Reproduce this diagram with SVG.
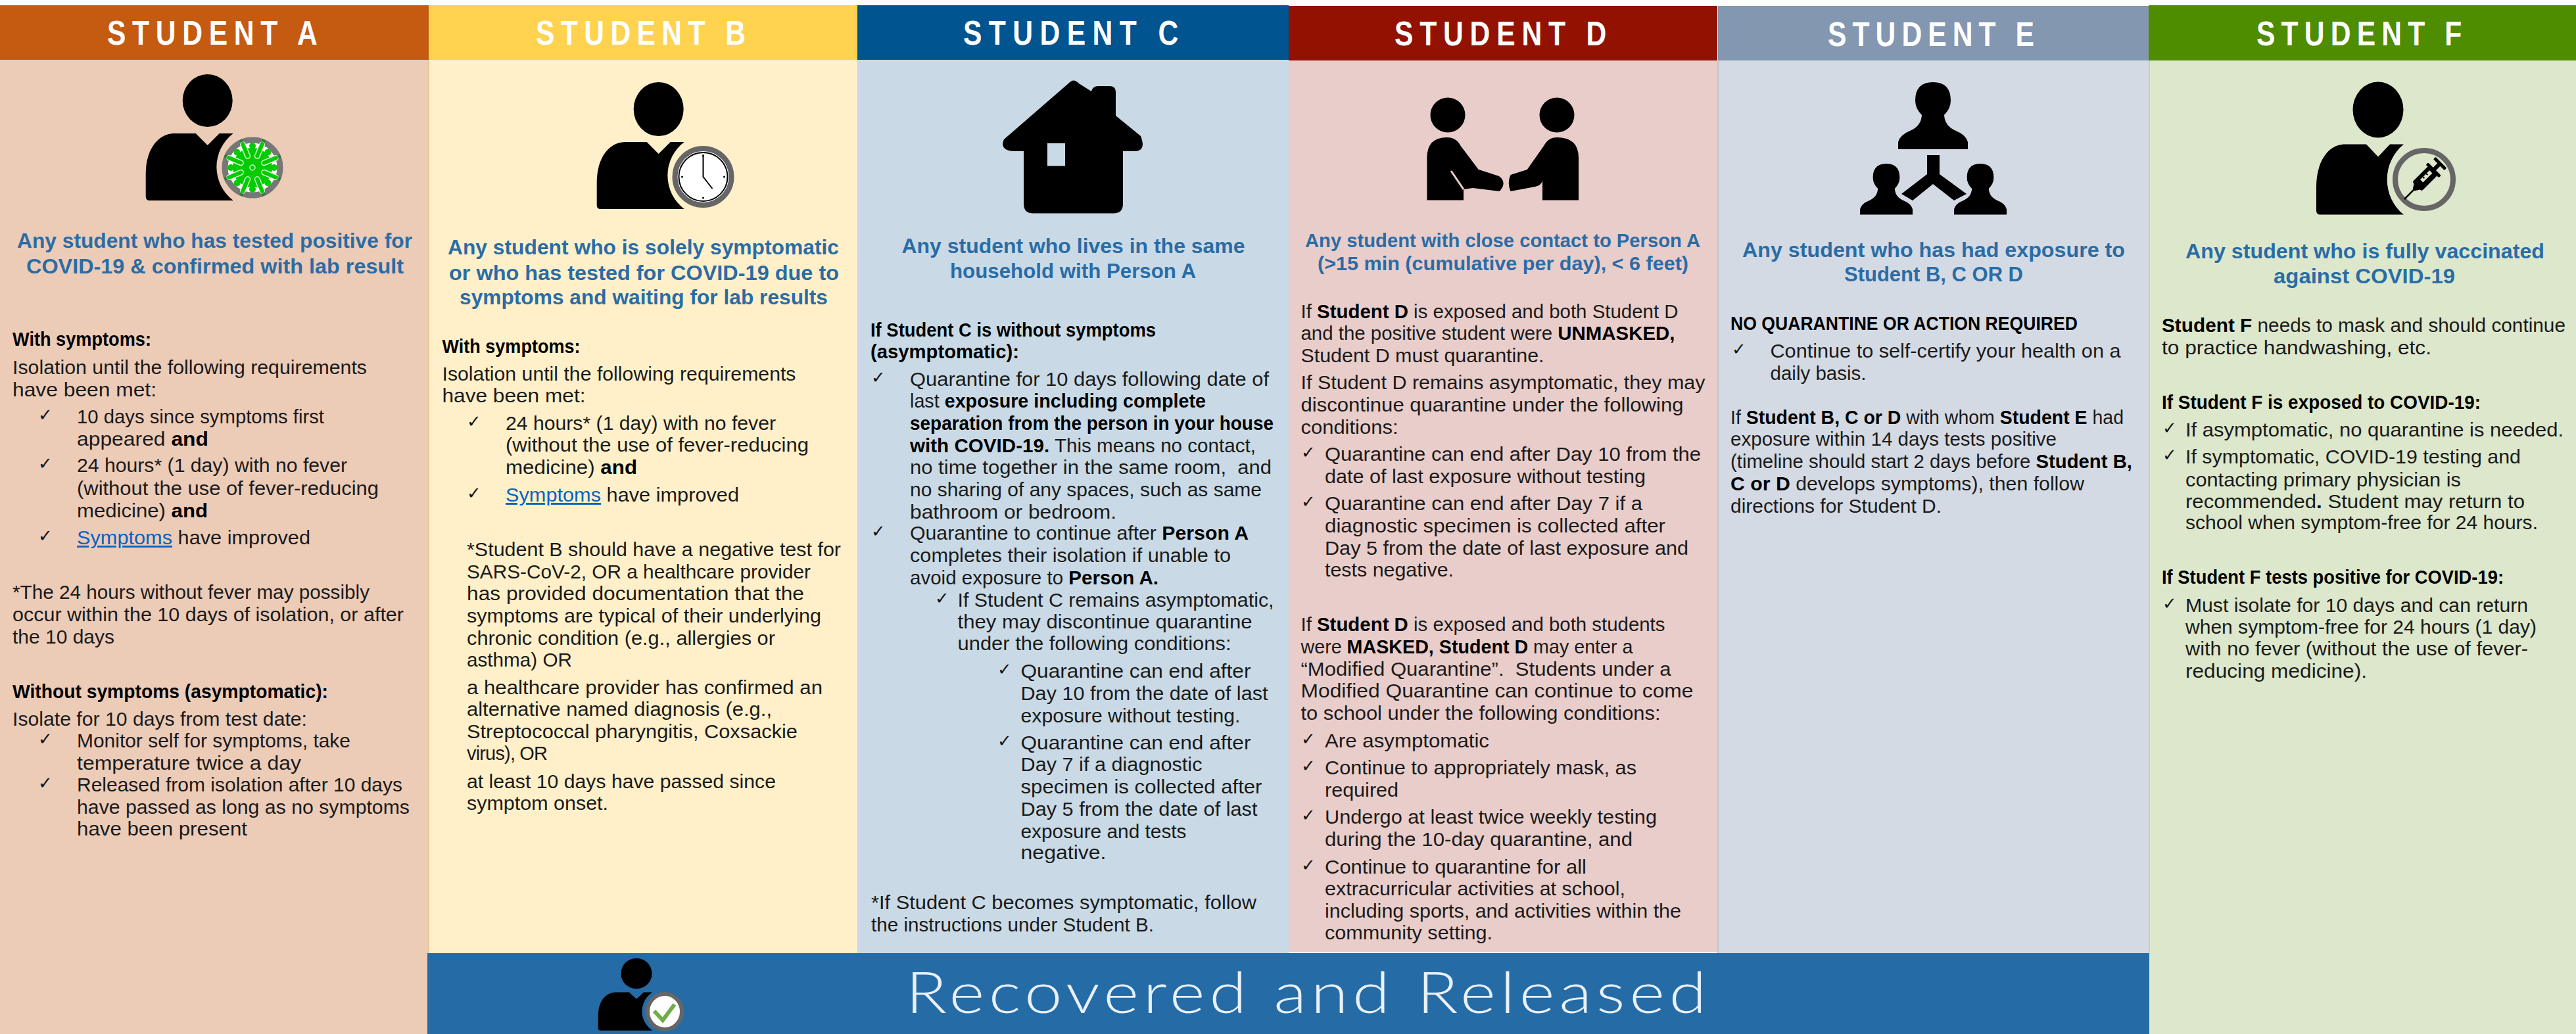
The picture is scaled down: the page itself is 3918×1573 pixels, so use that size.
<svg xmlns="http://www.w3.org/2000/svg" xmlns:xlink="http://www.w3.org/1999/xlink" width="3918" height="1573" viewBox="0 0 3918 1573">
<style>
text{font-family:"Liberation Sans",Arial,sans-serif;font-size:29px;fill:#1a1a1a;white-space:pre}
.h{font-size:52px;font-weight:700;fill:#fff}
.t{font-size:32px;font-weight:700;fill:#2a6ca6}
.b{font-weight:700;fill:#000}
.k{font-family:"DejaVu Sans",sans-serif;font-size:26px;fill:#111}
.l{fill:#0563c1;text-decoration:underline}
.r{font-family:Lato,"Liberation Sans",sans-serif;font-size:86px;font-weight:300;fill:#e9f0fb}
</style>
<defs>
<path id="body" d="M-88,152Q-94,152-94,146L-94,112C-94,75-76,50-50,50L-18,50L0,68L18,50L39,50A64,64 0 0 0 39,152Z"/>
<path id="bust" d="M-53,102L-53,91Q-50,80-35,74Q-18,67-17,50Q-27,40-27,28Q-27,0 0,0Q27,0 27,28Q27,40 17,50Q18,67 35,74Q50,80 53,91L53,102Z"/>
<g id="spike"><line x1="39" y1="0" x2="46" y2="0" stroke="#2f7a3a" stroke-width="5"/><line x1="19" y1="0" x2="38" y2="0" stroke="#dff7d8" stroke-width="9" stroke-linecap="round"/><line x1="19" y1="0" x2="39" y2="0" stroke="#00cc00" stroke-width="6" stroke-linecap="round"/></g>
<circle id="bump" cx="33" cy="0" r="5" fill="#00cc00"/>
</defs>
<rect width="3918" height="1573" fill="#fff"/>

<g id="student-a">
<rect x="0" y="91" width="652" height="1482" fill="#eccbb7"/>
<rect x="651" y="91" width="2" height="1482" fill="#f3c392"/>
<rect x="0" y="8" width="652" height="83" fill="#c55a11"/>
<text class="h" transform="translate(163,68) scale(.82,1)" textLength="390">STUDENT A</text>
<g transform="translate(315.7,153)"><ellipse rx="38" ry="40"/><use href="#body"/></g>
<g transform="translate(384,255)">
<circle r="53" fill="#eccbb7"/><circle r="42" fill="#fff" stroke="#777" stroke-width="9"/>
<circle r="30" fill="#00cc00"/>
<use href="#bump"/><use href="#bump" transform="rotate(45)"/><use href="#bump" transform="rotate(90)"/><use href="#bump" transform="rotate(135)"/><use href="#bump" transform="rotate(180)"/><use href="#bump" transform="rotate(225)"/><use href="#bump" transform="rotate(270)"/><use href="#bump" transform="rotate(315)"/>
<use href="#spike" transform="rotate(22.5)"/><use href="#spike" transform="rotate(67.5)"/><use href="#spike" transform="rotate(112.5)"/><use href="#spike" transform="rotate(157.5)"/><use href="#spike" transform="rotate(202.5)"/><use href="#spike" transform="rotate(247.5)"/><use href="#spike" transform="rotate(292.5)"/><use href="#spike" transform="rotate(337.5)"/>
<circle r="4" fill="none" stroke="#d9f7d0" stroke-width="1.5"/>
</g>
<text class="t" x="26" y="377" textLength="601" lengthAdjust="spacingAndGlyphs">Any student who has tested positive for</text>
<text class="t" x="40" y="416" textLength="574" lengthAdjust="spacingAndGlyphs">COVID-19 &amp; confirmed with lab result</text>
<text class="b" x="19" y="526" textLength="211" lengthAdjust="spacingAndGlyphs">With symptoms:</text>
<text x="19" y="569" textLength="539" lengthAdjust="spacingAndGlyphs">Isolation until the following requirements</text>
<text x="19" y="603" textLength="219" lengthAdjust="spacingAndGlyphs">have been met:</text>
<text class="k" x="58" y="640">✓</text>
<text x="117" y="644" textLength="376" lengthAdjust="spacingAndGlyphs">10 days since symptoms first</text>
<text x="117" y="678" textLength="200" lengthAdjust="spacingAndGlyphs">appeared <tspan class="b">and</tspan></text>
<text class="k" x="58" y="714">✓</text>
<text x="117" y="718" textLength="411" lengthAdjust="spacingAndGlyphs">24 hours* (1 day) with no fever</text>
<text x="117" y="753" textLength="459" lengthAdjust="spacingAndGlyphs">(without the use of fever-reducing</text>
<text x="117" y="787" textLength="199" lengthAdjust="spacingAndGlyphs">medicine) <tspan class="b">and</tspan></text>
<text class="k" x="58" y="824">✓</text>
<text x="117" y="828" textLength="355" lengthAdjust="spacingAndGlyphs"><tspan class="l">Symptoms</tspan> have improved</text>
<text x="19" y="911" textLength="543" lengthAdjust="spacingAndGlyphs">*The 24 hours without fever may possibly</text>
<text x="19" y="945" textLength="595" lengthAdjust="spacingAndGlyphs">occur within the 10 days of isolation, or after</text>
<text x="19" y="979" textLength="155" lengthAdjust="spacingAndGlyphs">the 10 days</text>
<text class="b" x="19" y="1062" textLength="480" lengthAdjust="spacingAndGlyphs">Without symptoms (asymptomatic):</text>
<text x="19" y="1104" textLength="448" lengthAdjust="spacingAndGlyphs">Isolate for 10 days from test date:</text>
<text class="k" x="58" y="1133">✓</text>
<text x="117" y="1137" textLength="416" lengthAdjust="spacingAndGlyphs">Monitor self for symptoms, take</text>
<text x="117" y="1171" textLength="341" lengthAdjust="spacingAndGlyphs">temperature twice a day</text>
<text class="k" x="58" y="1200">✓</text>
<text x="117" y="1204" textLength="495" lengthAdjust="spacingAndGlyphs">Released from isolation after 10 days</text>
<text x="117" y="1238" textLength="506" lengthAdjust="spacingAndGlyphs">have passed as long as no symptoms</text>
<text x="117" y="1271" textLength="259" lengthAdjust="spacingAndGlyphs">have been present</text>
</g>

<g id="student-b">
<rect x="653" y="91" width="651" height="1359" fill="#fff0c9"/>
<rect x="652" y="8" width="652" height="83" fill="#ffd34f"/>
<text class="h" transform="translate(815,68) scale(.82,1)" textLength="389">STUDENT B</text>
<g transform="translate(1001.7,166)"><ellipse rx="38" ry="41"/><use href="#body"/></g>
<g transform="translate(1069.5,269)">
<circle r="53" fill="#fff0c9"/><circle r="43" fill="#fff" stroke="#666" stroke-width="8"/>
<circle r="37" fill="#fff" stroke="#000" stroke-width="2"/>
<circle cx="0" cy="-32" r="1.5"/><circle cx="0" cy="32" r="1.5"/><circle cx="-32" cy="0" r="1.5"/><circle cx="32" cy="0" r="1.5"/>
<path d="M0,-34L0,0L14,18" fill="none" stroke="#000" stroke-width="2"/>
</g>
<text class="t" x="681" y="387" textLength="595" lengthAdjust="spacingAndGlyphs">Any student who is solely symptomatic</text>
<text class="t" x="683" y="426" textLength="593" lengthAdjust="spacingAndGlyphs">or who has tested for COVID-19 due to</text>
<text class="t" x="699" y="463" textLength="560" lengthAdjust="spacingAndGlyphs">symptoms and waiting for lab results</text>
<text class="b" x="672.5" y="537" textLength="210" lengthAdjust="spacingAndGlyphs">With symptoms:</text>
<text x="672.5" y="579" textLength="538" lengthAdjust="spacingAndGlyphs">Isolation until the following requirements</text>
<text x="672.5" y="612" textLength="218" lengthAdjust="spacingAndGlyphs">have been met:</text>
<text class="k" x="710" y="650">✓</text>
<text x="769" y="654" textLength="411" lengthAdjust="spacingAndGlyphs">24 hours* (1 day) with no fever</text>
<text x="769" y="687" textLength="461" lengthAdjust="spacingAndGlyphs">(without the use of fever-reducing</text>
<text x="769" y="721" textLength="200" lengthAdjust="spacingAndGlyphs">medicine) <tspan class="b">and</tspan></text>
<text class="k" x="710" y="759">✓</text>
<text x="769" y="763" textLength="355" lengthAdjust="spacingAndGlyphs"><tspan class="l">Symptoms</tspan> have improved</text>
<text x="710" y="846" textLength="569" lengthAdjust="spacingAndGlyphs">*Student B should have a negative test for</text>
<text x="710" y="880" textLength="523" lengthAdjust="spacingAndGlyphs">SARS-CoV-2, OR a healthcare provider</text>
<text x="710" y="913" textLength="513" lengthAdjust="spacingAndGlyphs">has provided documentation that the</text>
<text x="710" y="947" textLength="539" lengthAdjust="spacingAndGlyphs">symptoms are typical of their underlying</text>
<text x="710" y="981" textLength="469" lengthAdjust="spacingAndGlyphs">chronic condition (e.g., allergies or</text>
<text x="710" y="1014" textLength="160" lengthAdjust="spacingAndGlyphs">asthma) OR</text>
<text x="710" y="1056" textLength="541" lengthAdjust="spacingAndGlyphs">a healthcare provider has confirmed an</text>
<text x="710" y="1089" textLength="464" lengthAdjust="spacingAndGlyphs">alternative named diagnosis (e.g.,</text>
<text x="710" y="1123" textLength="503" lengthAdjust="spacingAndGlyphs">Streptococcal pharyngitis, Coxsackie</text>
<text x="710" y="1156" textLength="123">virus), OR</text>
<text x="710" y="1199" textLength="470" lengthAdjust="spacingAndGlyphs">at least 10 days have passed since</text>
<text x="710" y="1232" textLength="215" lengthAdjust="spacingAndGlyphs">symptom onset.</text>
</g>

<g id="student-c">
<rect x="1304" y="91" width="656" height="1359" fill="#c9dae6"/>
<rect x="1304" y="8" width="656" height="83" fill="#00548f"/>
<text class="h" transform="translate(1465,68) scale(.82,1)" textLength="399">STUDENT C</text>
<path fill-rule="evenodd" d="M1625,127Q1633,118 1641,127L1660,139Q1662,131 1670,131L1688,131Q1697,131 1697,140L1697,176L1735,207Q1744,230 1725,230L1708,230L1708,310Q1708,324.5 1694,324.5L1571,324.5Q1557,324.5 1557,310L1557,230L1540,230Q1520,228 1527,212ZM1593,218L1593,252.5L1620,252.5L1620,218Z"/>
<text class="t" x="1371.5" y="385" textLength="522" lengthAdjust="spacingAndGlyphs">Any student who lives in the same</text>
<text class="t" x="1445" y="423" textLength="374" lengthAdjust="spacingAndGlyphs">household with Person A</text>
<text class="b" x="1324" y="512" textLength="434" lengthAdjust="spacingAndGlyphs">If Student C is without symptoms</text>
<text class="b" x="1324" y="545" textLength="226" lengthAdjust="spacingAndGlyphs">(asymptomatic):</text>
<text class="k" x="1325" y="583">✓</text>
<text x="1384" y="587" textLength="546" lengthAdjust="spacingAndGlyphs">Quarantine for 10 days following date of</text>
<text x="1384" y="620" textLength="450" lengthAdjust="spacingAndGlyphs">last <tspan class="b">exposure including complete</tspan></text>
<text class="b" x="1384" y="654" textLength="553" lengthAdjust="spacingAndGlyphs">separation from the person in your house</text>
<text x="1384" y="688" textLength="526" lengthAdjust="spacingAndGlyphs"><tspan class="b">with COVID-19.</tspan> This means no contact,</text>
<text x="1384" y="721" textLength="550" lengthAdjust="spacingAndGlyphs">no time together in the same room,  and</text>
<text x="1384" y="755" textLength="535" lengthAdjust="spacingAndGlyphs">no sharing of any spaces, such as same</text>
<text x="1384" y="789" textLength="314" lengthAdjust="spacingAndGlyphs">bathroom or bedroom.</text>
<text class="k" x="1325" y="817">✓</text>
<text x="1384" y="821" textLength="515" lengthAdjust="spacingAndGlyphs">Quarantine to continue after <tspan class="b">Person A</tspan></text>
<text x="1384" y="855" textLength="488" lengthAdjust="spacingAndGlyphs">completes their isolation if unable to</text>
<text x="1384" y="889" textLength="378" lengthAdjust="spacingAndGlyphs">avoid exposure to <tspan class="b">Person A.</tspan></text>
<text class="k" x="1422" y="919">✓</text>
<text x="1456.5" y="923" textLength="481" lengthAdjust="spacingAndGlyphs">If Student C remains asymptomatic,</text>
<text x="1456.5" y="956" textLength="448" lengthAdjust="spacingAndGlyphs">they may discontinue quarantine</text>
<text x="1456.5" y="989" textLength="416" lengthAdjust="spacingAndGlyphs">under the following conditions:</text>
<text class="k" x="1517" y="1027">✓</text>
<text x="1552.5" y="1031" textLength="350" lengthAdjust="spacingAndGlyphs">Quarantine can end after</text>
<text x="1552.5" y="1065" textLength="376" lengthAdjust="spacingAndGlyphs">Day 10 from the date of last</text>
<text x="1552.5" y="1099" textLength="334" lengthAdjust="spacingAndGlyphs">exposure without testing.</text>
<text class="k" x="1517" y="1136">✓</text>
<text x="1552.5" y="1140" textLength="350" lengthAdjust="spacingAndGlyphs">Quarantine can end after</text>
<text x="1552.5" y="1173" textLength="276" lengthAdjust="spacingAndGlyphs">Day 7 if a diagnostic</text>
<text x="1552.5" y="1207" textLength="367" lengthAdjust="spacingAndGlyphs">specimen is collected after</text>
<text x="1552.5" y="1241" textLength="360" lengthAdjust="spacingAndGlyphs">Day 5 from the date of last</text>
<text x="1552.5" y="1275" textLength="252" lengthAdjust="spacingAndGlyphs">exposure and tests</text>
<text x="1552.5" y="1307" textLength="130" lengthAdjust="spacingAndGlyphs">negative.</text>
<text x="1325" y="1383" textLength="586" lengthAdjust="spacingAndGlyphs">*If Student C becomes symptomatic, follow</text>
<text x="1325" y="1417" textLength="430" lengthAdjust="spacingAndGlyphs">the instructions under Student B.</text>
</g>

<g id="student-d">
<rect x="1960" y="92" width="652" height="1356" fill="#e9cdca"/>
<rect x="1960" y="9" width="652" height="83" fill="#931100"/>
<text class="h" transform="translate(2121,69) scale(.82,1)" textLength="393">STUDENT D</text>
<ellipse cx="2202" cy="175" rx="26.5" ry="26.5"/><ellipse cx="2368" cy="175" rx="26.5" ry="26.5"/>
<path d="M2170.4,304.6L2170.4,240Q2170.4,209 2200.7,209Q2215,209 2221.7,222L2248.6,257.7L2280,268Q2293,278 2280.6,291L2240,286L2226,288L2226,304.6Z"/>
<path d="M2207,260L2226,288" stroke="#e9cdca" stroke-width="3" fill="none"/>
<path d="M2401,304.6L2401,240Q2401,209 2368,209Q2355,209 2348,222L2322.7,258L2297.5,266Q2292,278 2297.5,291L2335,284Q2344,282 2346,275L2346,304.6Z"/>
<text class="t" style="font-size:30px" x="1985" y="376" textLength="601" lengthAdjust="spacingAndGlyphs">Any student with close contact to Person A</text>
<text class="t" style="font-size:30px" x="2004" y="411" textLength="564" lengthAdjust="spacingAndGlyphs">(&gt;15 min (cumulative per day), &lt; 6 feet)</text>
<text x="1978.5" y="484" textLength="574" lengthAdjust="spacingAndGlyphs">If <tspan class="b">Student D</tspan> is exposed and both Student D</text>
<text x="1978.5" y="517" textLength="569" lengthAdjust="spacingAndGlyphs">and the positive student were <tspan class="b">UNMASKED,</tspan></text>
<text x="1978.5" y="551" textLength="370" lengthAdjust="spacingAndGlyphs">Student D must quarantine.</text>
<text x="1978.5" y="592" textLength="615" lengthAdjust="spacingAndGlyphs">If Student D remains asymptomatic, they may</text>
<text x="1978.5" y="626" textLength="582" lengthAdjust="spacingAndGlyphs">discontinue quarantine under the following</text>
<text x="1978.5" y="660" textLength="148" lengthAdjust="spacingAndGlyphs">conditions:</text>
<text class="k" x="1979" y="697">✓</text>
<text x="2015" y="701" textLength="572" lengthAdjust="spacingAndGlyphs">Quarantine can end after Day 10 from the</text>
<text x="2015" y="735" textLength="488" lengthAdjust="spacingAndGlyphs">date of last exposure without testing</text>
<text class="k" x="1979" y="772">✓</text>
<text x="2015" y="776" textLength="483" lengthAdjust="spacingAndGlyphs">Quarantine can end after Day 7 if a</text>
<text x="2015" y="810" textLength="518" lengthAdjust="spacingAndGlyphs">diagnostic specimen is collected after</text>
<text x="2015" y="844" textLength="553" lengthAdjust="spacingAndGlyphs">Day 5 from the date of last exposure and</text>
<text x="2015" y="877" textLength="196" lengthAdjust="spacingAndGlyphs">tests negative.</text>
<text x="1978.5" y="960" textLength="554" lengthAdjust="spacingAndGlyphs">If <tspan class="b">Student D</tspan> is exposed and both students</text>
<text x="1978.5" y="994" textLength="505" lengthAdjust="spacingAndGlyphs">were <tspan class="b">MASKED, Student D</tspan> may enter a</text>
<text x="1978.5" y="1028" textLength="563" lengthAdjust="spacingAndGlyphs">“Modified Quarantine”.  Students under a</text>
<text x="1978.5" y="1061" textLength="597" lengthAdjust="spacingAndGlyphs">Modified Quarantine can continue to come</text>
<text x="1978.5" y="1095" textLength="547" lengthAdjust="spacingAndGlyphs">to school under the following conditions:</text>
<text class="k" x="1979" y="1133">✓</text>
<text x="2015" y="1137" textLength="250" lengthAdjust="spacingAndGlyphs">Are asymptomatic</text>
<text class="k" x="1979" y="1174">✓</text>
<text x="2015" y="1178" textLength="474" lengthAdjust="spacingAndGlyphs">Continue to appropriately mask, as</text>
<text x="2015" y="1212" textLength="112" lengthAdjust="spacingAndGlyphs">required</text>
<text class="k" x="1979" y="1249">✓</text>
<text x="2015" y="1253" textLength="505" lengthAdjust="spacingAndGlyphs">Undergo at least twice weekly testing</text>
<text x="2015" y="1287" textLength="468" lengthAdjust="spacingAndGlyphs">during the 10-day quarantine, and</text>
<text class="k" x="1979" y="1325">✓</text>
<text x="2015" y="1329" textLength="398" lengthAdjust="spacingAndGlyphs">Continue to quarantine for all</text>
<text x="2015" y="1362" textLength="457" lengthAdjust="spacingAndGlyphs">extracurricular activities at school,</text>
<text x="2015" y="1396" textLength="542" lengthAdjust="spacingAndGlyphs">including sports, and activities within the</text>
<text x="2015" y="1429" textLength="255" lengthAdjust="spacingAndGlyphs">community setting.</text>
</g>

<g id="student-e">
<rect x="2613" y="92" width="655" height="1358" fill="#d3dae4"/>
<rect x="2612" y="92" width="2" height="1358" fill="#c5c5c8"/>
<rect x="2613" y="9" width="655" height="83" fill="#8497b0"/>
<text class="h" transform="translate(2780,70) scale(.82,1)" textLength="383">STUDENT E</text>
<use href="#bust" transform="translate(2940,125)"/>
<use href="#bust" transform="translate(2869,249) scale(.755,.76)"/>
<use href="#bust" transform="translate(3012,249) scale(.755,.76)"/>
<polygon points="2931,236 2950,236 2950,265 2991,295 2972,305 2940,280 2909,305 2892,295 2931,265"/>
<text class="t" x="2650" y="391" textLength="582" lengthAdjust="spacingAndGlyphs">Any student who has had exposure to</text>
<text class="t" x="2805" y="428" textLength="272" lengthAdjust="spacingAndGlyphs">Student B, C OR D</text>
<text class="b" x="2632" y="502" textLength="528" lengthAdjust="spacingAndGlyphs">NO QUARANTINE OR ACTION REQUIRED</text>
<text class="k" x="2634" y="540">✓</text>
<text x="2692.5" y="544" textLength="533" lengthAdjust="spacingAndGlyphs">Continue to self-certify your health on a</text>
<text x="2692.5" y="578" textLength="146" lengthAdjust="spacingAndGlyphs">daily basis.</text>
<text x="2632" y="645" textLength="598" lengthAdjust="spacingAndGlyphs">If <tspan class="b">Student B, C or D</tspan> with whom <tspan class="b">Student E</tspan> had</text>
<text x="2632" y="678" textLength="496" lengthAdjust="spacingAndGlyphs">exposure within 14 days tests positive</text>
<text x="2632" y="712" textLength="611" lengthAdjust="spacingAndGlyphs">(timeline should start 2 days before <tspan class="b">Student B,</tspan></text>
<text x="2632" y="746" textLength="538" lengthAdjust="spacingAndGlyphs"><tspan class="b">C or D</tspan> develops symptoms), then follow</text>
<text x="2632" y="780" textLength="321" lengthAdjust="spacingAndGlyphs">directions for Student D.</text>
</g>

<g id="student-f">
<rect x="3268" y="92" width="650" height="1481" fill="#dce7cb"/>
<rect x="3268" y="92" width="2" height="1358" fill="#c3cfc4"/>
<rect x="3268" y="8" width="650" height="84" fill="#4e8c00"/>
<text class="h" transform="translate(3432,69) scale(.82,1)" textLength="381">STUDENT F</text>
<g transform="translate(3617,167) scale(1,1.05)"><ellipse rx="38.5" ry="40.5"/><use href="#body"/></g>
<circle cx="3687" cy="273" r="53" fill="#dce7cb"/>
<circle cx="3687" cy="273" r="44" fill="#dce7cb" stroke="#666" stroke-width="8"/>
<g transform="translate(3657,303) rotate(-45)">
<line x1="0" y1="0" x2="22" y2="0" stroke="#000" stroke-width="2.5"/>
<polygon points="20,-2 28,-7 28,7 20,2"/>
<rect x="27" y="-10" width="34" height="20" rx="3"/>
<rect x="38" y="-4" width="20" height="6" fill="#dce7cb"/>
<rect x="43" y="-4" width="2" height="3"/><rect x="50" y="-4" width="2" height="3"/>
<rect x="60" y="-14" width="5" height="28" rx="2"/>
<rect x="64" y="-3" width="11" height="6"/>
<rect x="74" y="-12" width="5" height="24" rx="2"/>
</g>
<text class="t" x="3324" y="393" textLength="546" lengthAdjust="spacingAndGlyphs">Any student who is fully vaccinated</text>
<text class="t" x="3458" y="431" textLength="276" lengthAdjust="spacingAndGlyphs">against COVID-19</text>
<text x="3288" y="505" textLength="614" lengthAdjust="spacingAndGlyphs"><tspan class="b">Student F</tspan> needs to mask and should continue</text>
<text x="3288" y="539" textLength="410" lengthAdjust="spacingAndGlyphs">to practice handwashing, etc.</text>
<text class="b" x="3288" y="622" textLength="485" lengthAdjust="spacingAndGlyphs">If Student F is exposed to COVID-19:</text>
<text class="k" x="3289" y="660">✓</text>
<text x="3324" y="664" textLength="575" lengthAdjust="spacingAndGlyphs">If asymptomatic, no quarantine is needed.</text>
<text class="k" x="3289" y="701">✓</text>
<text x="3324" y="705" textLength="510" lengthAdjust="spacingAndGlyphs">If symptomatic, COVID-19 testing and</text>
<text x="3324" y="740" textLength="419" lengthAdjust="spacingAndGlyphs">contacting primary physician is</text>
<text x="3324" y="773" textLength="516" lengthAdjust="spacingAndGlyphs">recommended<tspan class="b">.</tspan> Student may return to</text>
<text x="3324" y="805" textLength="536" lengthAdjust="spacingAndGlyphs">school when symptom-free for 24 hours.</text>
<text class="b" x="3288" y="888" textLength="520" lengthAdjust="spacingAndGlyphs">If Student F tests positive for COVID-19:</text>
<text class="k" x="3289" y="927">✓</text>
<text x="3324" y="931" textLength="521" lengthAdjust="spacingAndGlyphs">Must isolate for 10 days and can return</text>
<text x="3324" y="964" textLength="534" lengthAdjust="spacingAndGlyphs">when symptom-free for 24 hours (1 day)</text>
<text x="3324" y="997" textLength="521" lengthAdjust="spacingAndGlyphs">with no fever (without the use of fever-</text>
<text x="3324" y="1031" textLength="276" lengthAdjust="spacingAndGlyphs">reducing medicine).</text>
</g>

<g id="recovered">
<rect x="650" y="1450" width="2619" height="123" fill="#256ca6"/>
<g transform="translate(968,1481) scale(.62,.57)"><ellipse rx="38" ry="41"/><use href="#body"/></g>
<circle cx="1011" cy="1539" r="34" fill="#256ca6"/>
<ellipse cx="1011" cy="1539" rx="26" ry="27" fill="#fff" stroke="#666" stroke-width="6"/>
<path d="M995,1538L1008,1552L1026,1528" fill="none" stroke="#70ad47" stroke-width="6"/>
<text class="r" transform="translate(1377.5,1541) scale(1.2,1)" textLength="1015">Recovered and Released</text>
</g>
</svg>
